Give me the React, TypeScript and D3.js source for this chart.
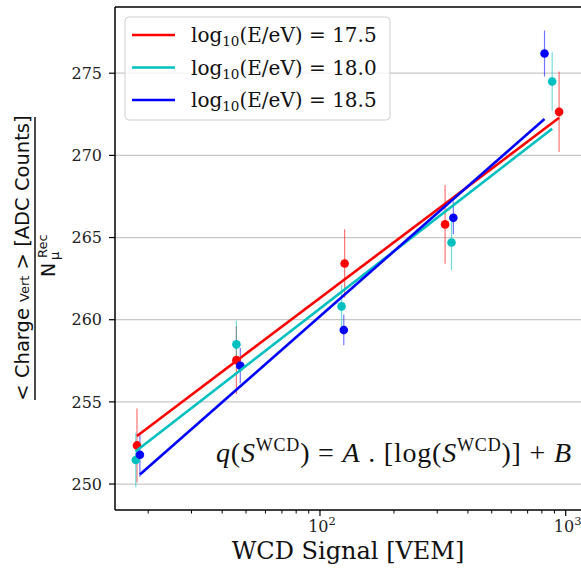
import React from "react";
import * as d3 from "d3";

// ---- data ----
const seriesNames = ["17.5", "18.0", "18.5"];
const seriesColors = ["#ff0000", "#00bfbf", "#0000ff"];

const xRed = [18.0, 45.7, 126, 323, 940];
const yRed = [252.35, 257.54, 263.42, 265.8, 272.65];
const eRed = [2.25, 2.07, 2.08, 2.4, 2.45];

const xCyan = [17.8, 45.7, 122.4, 343, 881];
const yCyan = [251.46, 258.5, 260.81, 264.7, 274.5];
const eCyan = [1.65, 1.45, 1.3, 1.7, 1.78];

const xBlue = [18.5, 47.4, 125, 349, 820];
const yBlue = [251.78, 257.2, 259.37, 266.2, 276.2];
const eBlue = [1.35, 1.08, 0.93, 1.0, 1.4];

// fit q = A*log10(S) + B
const fitA = [11.27, 11.58, 13.14];
const fitB = [238.78, 237.52, 233.93];

const yTicks = [250, 255, 260, 265, 270, 275];
const xMajorTicks = [100, 1000];
const xMajorExp = ["2", "3"];
const xMinorTicks = [20, 30, 40, 50, 60, 70, 80, 90, 200, 300, 400, 500, 600, 700, 800, 900];

const W = 581;
const H = 570;
const L = 115, R = 583, T = 7, B = 510;

export default function App() {
  const x = d3.scaleLog().domain([14.65, 1176]).range([L, R]);
  const y = d3.scaleLinear().domain([248.42, 279.03]).range([B, T]);

  const series = [
    { xs: xRed, ys: yRed, es: eRed },
    { xs: xCyan, ys: yCyan, es: eCyan },
    { xs: xBlue, ys: yBlue, es: eBlue },
  ];

  const line = d3
    .line<[number, number]>()
    .x((d) => x(d[0]))
    .y((d) => y(d[1]));

  return (
    <svg
      width={W}
      height={H}
      style={{ position: "absolute", left: 0, top: 0, background: "#fff" }}
    >
      <defs>
        <clipPath id="plot">
          <rect x={L} y={T} width={R - L} height={B - T} />
        </clipPath>
      </defs>
      <rect x={0} y={0} width={W} height={H} fill="#fff" />
      {/* grid */}
      {yTicks.map((t) => (
        <line key={t} x1={L} x2={R} y1={y(t)} y2={y(t)} stroke="#c8c8c8" strokeWidth={1.2} />
      ))}

      <g clipPath="url(#plot)">
        {/* error bars */}
        {series.map((s, si) =>
          s.xs.map((xv, i) => (
            <line
              key={`e${si}-${i}`}
              x1={x(xv)}
              x2={x(xv)}
              y1={y(s.ys[i] - s.es[i])}
              y2={y(s.ys[i] + s.es[i])}
              stroke={seriesColors[si]}
              strokeOpacity={0.55}
              strokeWidth={1.2}
            />
          ))
        )}
        {/* points */}
        {series.map((s, si) =>
          s.xs.map((xv, i) => (
            <circle key={`p${si}-${i}`} cx={x(xv)} cy={y(s.ys[i])} r={4.3} fill={seriesColors[si]} />
          ))
        )}
        {/* fit lines */}
        {series.map((s, si) => {
          const x0 = d3.min(s.xs) as number;
          const x1 = d3.max(s.xs) as number;
          const pts: [number, number][] = [x0, x1].map((v) => [v, fitA[si] * Math.log10(v) + fitB[si]]);
          return (
            <path key={`l${si}`} d={line(pts) || ""} stroke={seriesColors[si]} strokeWidth={2.6} fill="none" />
          );
        })}
      </g>

      {/* frame */}
      <line x1={L} x2={L} y1={T} y2={B} stroke="#000" strokeWidth={1.5} />
      <line x1={L} x2={R} y1={B} y2={B} stroke="#000" strokeWidth={1.5} />
      <line x1={L} x2={R} y1={T} y2={T} stroke="#000" strokeWidth={1.5} />

      {/* y ticks */}
      {yTicks.map((t) => (
        <g key={`yt${t}`}>
          <line x1={L - 6} x2={L} y1={y(t)} y2={y(t)} stroke="#000" strokeWidth={1.2} />
          <text
            x={L - 13}
            y={y(t)}
            dy="0.36em"
            textAnchor="end"
            fontFamily="DejaVu Serif"
            fontSize={16}
            fill="#222"
          >
            {t}
          </text>
        </g>
      ))}

      {/* x ticks */}
      {xMinorTicks.map((t) => (
        <line key={`xm${t}`} x1={x(t)} x2={x(t)} y1={B} y2={B + 3.5} stroke="#000" strokeWidth={1} />
      ))}
      {xMajorTicks.map((t, i) => (
        <g key={`xM${t}`}>
          <line x1={x(t)} x2={x(t)} y1={B} y2={B + 6} stroke="#000" strokeWidth={1.2} />
          <text x={x(t) + 2} y={532} textAnchor="middle" fontFamily="DejaVu Serif" fontSize={16} fill="#222">
            10
            <tspan fontSize={11.5} dy={-7}>
              {xMajorExp[i]}
            </tspan>
          </text>
        </g>
      ))}

      {/* x label */}
      <text x={348} y={559} textAnchor="middle" fontFamily="DejaVu Serif" fontSize={24} fill="#111">
        WCD Signal [VEM]
      </text>

      {/* y label */}
      <g transform="translate(29,258) rotate(-90)" fill="#111">
        <text x={0} y={0} textAnchor="middle" fontFamily="DejaVu Sans" fontSize={19.5}>
          {"< Charge "}
          <tspan fontSize={13}>Vert</tspan>
          {" > [ADC Counts]"}
        </text>
        <line x1={-142} x2={141} y1={6} y2={6} stroke="#111" strokeWidth={1.5} />
        <text x={-19} y={26} fontFamily="DejaVu Sans" fontSize={19}>
          N
        </text>
        <text x={-2} y={30} fontFamily="DejaVu Sans" fontSize={13}>
          μ
        </text>
        <text x={0} y={18} fontFamily="DejaVu Sans" fontSize={13}>
          Rec
        </text>
      </g>

      {/* equation */}
      <text
        x={216}
        y={462}
        fontFamily="Liberation Serif"
        fontSize={28}
        fill="#111"
        textLength={355}
        lengthAdjust="spacing"
      >
        <tspan fontStyle="italic">q</tspan>
        <tspan>(</tspan>
        <tspan fontStyle="italic">S</tspan>
        <tspan fontSize={18} dy={-11}>WCD</tspan>
        <tspan dy={11}>{")  =  "}</tspan>
        <tspan fontStyle="italic">A</tspan>
        <tspan>{" . [log("}</tspan>
        <tspan fontStyle="italic">S</tspan>
        <tspan fontSize={18} dy={-11}>WCD</tspan>
        <tspan dy={11}>{")]  +  "}</tspan>
        <tspan fontStyle="italic">B</tspan>
      </text>

      {/* legend */}
      <rect x={125} y={17} width={265} height={103} rx={4} fill="#fff" fillOpacity={0.8} stroke="#d0d0d0" strokeWidth={1} />
      {seriesNames.map((n, i) => {
        const yy = 35 + i * 32.5;
        return (
          <g key={`lg${n}`}>
            <line x1={132} x2={175} y1={yy} y2={yy} stroke={seriesColors[i]} strokeWidth={2.6} />
            <text x={191} y={yy + 7} fontFamily="DejaVu Serif" fontSize={20} fill="#111">
              log
              <tspan fontSize={13.5} dy={4}>10</tspan>
              <tspan dy={-4}>{`(E/eV) = ${n}`}</tspan>
            </text>
          </g>
        );
      })}
    </svg>
  );
}
